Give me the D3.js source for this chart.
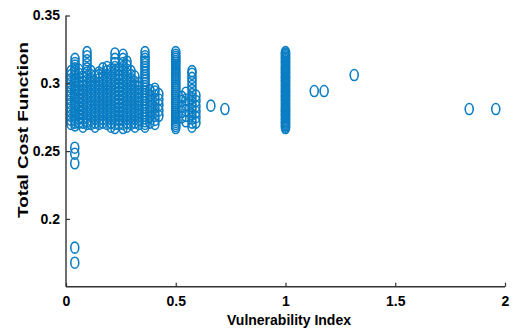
<!DOCTYPE html>
<html>
<head>
<meta charset="utf-8">
<script src="https://cdn.jsdelivr.net/npm/d3@7"></script>
<style>
  html, body { margin: 0; padding: 0; background: #fff; }
  text { font-family: "Liberation Sans", Arial, sans-serif; font-weight: bold; fill: #000; }
</style>
</head>
<body>
<svg id="chart" width="516" height="330"></svg>
<script>
// Axis ticks
const xTicks = [0, 0.5, 1, 1.5, 2];
const yTicks = [0.2, 0.25, 0.3, 0.35];
const xTickLabels = ["0", "0.5", "1", "1.5", "2"];
const yTickLabels = ["0.2", "0.25", "0.3", "0.35"];

// Main cluster: one column of cost values per vulnerability index
const columnX = [0.023, 0.041, 0.059, 0.077, 0.096, 0.114, 0.132, 0.150, 0.168, 0.187,
                 0.205, 0.223, 0.241, 0.260, 0.278, 0.296, 0.314, 0.332, 0.360, 0.382,
                 0.405, 0.423, 0.500, 0.528, 0.546, 0.574, 0.592, 1.000];
const columnY = [
  [0.270,0.273,0.276,0.279,0.282,0.285,0.288,0.291,0.294,0.297,0.300,0.303,0.306,0.309],
  [0.269,0.271,0.273,0.275,0.277,0.279,0.281,0.283,0.285,0.287,0.289,0.291,0.293,0.295,0.297,0.299,0.301,0.303,0.305,0.307,0.309,0.311,0.313,0.315,0.318],
  [0.271,0.274,0.277,0.280,0.283,0.286,0.289,0.292,0.295,0.298,0.301,0.304,0.307,0.310],
  [0.268,0.271,0.274,0.277,0.280,0.283,0.286,0.289,0.292,0.295,0.298,0.301,0.305],
  [0.270,0.272,0.275,0.278,0.281,0.284,0.287,0.290,0.293,0.296,0.299,0.302,0.305,0.308,0.311,0.314,0.317,0.320,0.323],
  [0.270,0.273,0.276,0.279,0.282,0.285,0.288,0.291,0.294,0.297,0.300,0.303,0.306,0.309],
  [0.268,0.271,0.274,0.277,0.280,0.283,0.286,0.289,0.292,0.295,0.298,0.301,0.305],
  [0.270,0.273,0.276,0.279,0.282,0.285,0.288,0.291,0.294,0.297,0.300,0.303,0.306,0.308],
  [0.271,0.274,0.277,0.280,0.283,0.286,0.289,0.292,0.295,0.298,0.301,0.304,0.307,0.311],
  [0.270,0.273,0.276,0.279,0.282,0.285,0.288,0.291,0.294,0.297,0.300,0.303,0.306,0.309,0.312],
  [0.268,0.271,0.274,0.277,0.280,0.283,0.286,0.289,0.292,0.295,0.298,0.301,0.304,0.307,0.310],
  [0.267,0.270,0.273,0.276,0.279,0.282,0.285,0.288,0.291,0.294,0.297,0.300,0.303,0.306,0.309,0.312,0.315,0.318,0.322],
  [0.270,0.273,0.276,0.279,0.282,0.285,0.288,0.291,0.294,0.297,0.300,0.303,0.306,0.310],
  [0.267,0.270,0.273,0.276,0.279,0.282,0.285,0.288,0.291,0.294,0.297,0.300,0.303,0.306,0.309,0.312,0.315,0.318,0.321],
  [0.268,0.271,0.274,0.277,0.280,0.283,0.286,0.289,0.292,0.295,0.298,0.301,0.304,0.307,0.310,0.313,0.316],
  [0.270,0.273,0.276,0.279,0.282,0.285,0.288,0.291,0.294,0.297,0.300,0.303,0.306,0.309],
  [0.268,0.271,0.274,0.277,0.280,0.283,0.286,0.289,0.292,0.295,0.298,0.301,0.305],
  [0.270,0.273,0.276,0.279,0.282,0.285,0.288,0.291,0.294,0.297,0.300],
  [0.268,0.270,0.272,0.274,0.276,0.278,0.280,0.282,0.284,0.286,0.288,0.290,0.292,0.294,0.296,0.298,0.300,0.302,0.304,0.306,0.308,0.310,0.312,0.314,0.316,0.318,0.320,0.323],
  [0.271,0.275,0.279,0.283,0.287,0.291,0.295],
  [0.270,0.273,0.276,0.279,0.282,0.285,0.288,0.291,0.294,0.296],
  [0.276,0.280,0.284,0.288,0.292],
  [0.267,0.2685,0.270,0.2715,0.273,0.2745,0.276,0.2775,0.279,0.2805,0.282,0.2835,0.285,0.2865,0.288,0.2895,0.291,0.2925,0.294,0.2955,0.297,0.2985,0.300,0.3015,0.303,0.3045,0.306,0.3075,0.309,0.3105,0.312,0.3135,0.315,0.3165,0.318,0.3195,0.321,0.323],
  [0.275,0.279,0.283,0.287,0.290],
  [0.272,0.276,0.280,0.284,0.288,0.293],
  [0.268,0.271,0.274,0.277,0.280,0.283,0.286,0.289,0.292,0.295,0.298,0.301,0.304,0.307,0.309],
  [0.271,0.275,0.279,0.283,0.287,0.291],
  [0.267,0.268,0.269,0.270,0.271,0.272,0.273,0.274,0.275,0.276,0.277,0.278,0.279,0.280,0.281,0.282,0.283,0.284,0.285,0.286,0.287,0.288,0.289,0.290,0.291,0.292,0.293,0.294,0.295,0.296,0.297,0.298,0.299,0.300,0.301,0.302,0.303,0.304,0.305,0.306,0.307,0.308,0.309,0.310,0.311,0.312,0.313,0.314,0.315,0.316,0.317,0.318,0.319,0.320,0.321,0.322,0.323]
];

// Isolated solutions
const loneX = [0.040, 0.040, 0.040, 0.040, 0.040, 0.660, 0.724, 1.131, 1.176, 1.313, 1.837, 1.958];
const loneY = [0.2525, 0.2481, 0.2410, 0.1788, 0.1677, 0.2835, 0.2810, 0.2943, 0.2943, 0.3061, 0.2810, 0.2810];

const points = [];
columnX.forEach((x, i) => columnY[i].forEach(y => points.push({ x, y })));
loneX.forEach((x, i) => points.push({ x, y: loneY[i] }));

const svg = d3.select("#chart");
const x = d3.scaleLinear().domain([0, 2]).range([66, 505]);
const y = d3.scaleLinear().domain([0.15, 0.35]).range([286.7, 15.5]);
const axisColor = "#333";
const markColor = "#0b7dc3";

// Points
svg.append("g")
  .selectAll("ellipse")
  .data(points)
  .join("ellipse")
  .attr("cx", d => x(d.x))
  .attr("cy", d => y(d.y))
  .attr("rx", 4)
  .attr("ry", 5.5)
  .attr("fill", "none")
  .attr("stroke", markColor)
  .attr("stroke-width", 1.6);

// Axes with inward ticks
const xAxis = d3.axisBottom(x).tickValues(xTicks).tickSize(-4).tickPadding(9)
  .tickFormat((d, i) => xTickLabels[i]);
const yAxis = d3.axisLeft(y).tickValues(yTicks).tickSize(-4).tickPadding(6)
  .tickFormat((d, i) => yTickLabels[i]);

const gx = svg.append("g").attr("transform", "translate(0,286.7)").call(xAxis);
const gy = svg.append("g").attr("transform", "translate(66,0)").call(yAxis);
[gx, gy].forEach(g => {
  g.select(".domain").attr("stroke", axisColor).attr("stroke-width", 1.4);
  g.selectAll(".tick line").attr("stroke", axisColor).attr("stroke-width", 1.2);
  g.selectAll(".tick text")
    .style("font-family", '"Liberation Sans", Arial, sans-serif')
    .style("font-weight", "bold")
    .style("font-size", "14px")
    .attr("fill", "#000");
});
gx.select(".domain").attr("d", `M${x(0)},0H${x(2)}`);
gy.select(".domain").attr("d", `M0,${y(0.15)}V${y(0.35)}`);

// Axis titles
svg.append("text")
  .attr("x", 289).attr("y", 325)
  .attr("text-anchor", "middle")
  .style("font-size", "14px")
  .text("Vulnerability Index");

svg.append("text")
  .attr("transform", "translate(28,130) rotate(-90)")
  .attr("text-anchor", "middle")
  .attr("textLength", 176)
  .attr("lengthAdjust", "spacingAndGlyphs")
  .style("font-size", "15px")
  .text("Total Cost Function");
</script>
</body>
</html>
